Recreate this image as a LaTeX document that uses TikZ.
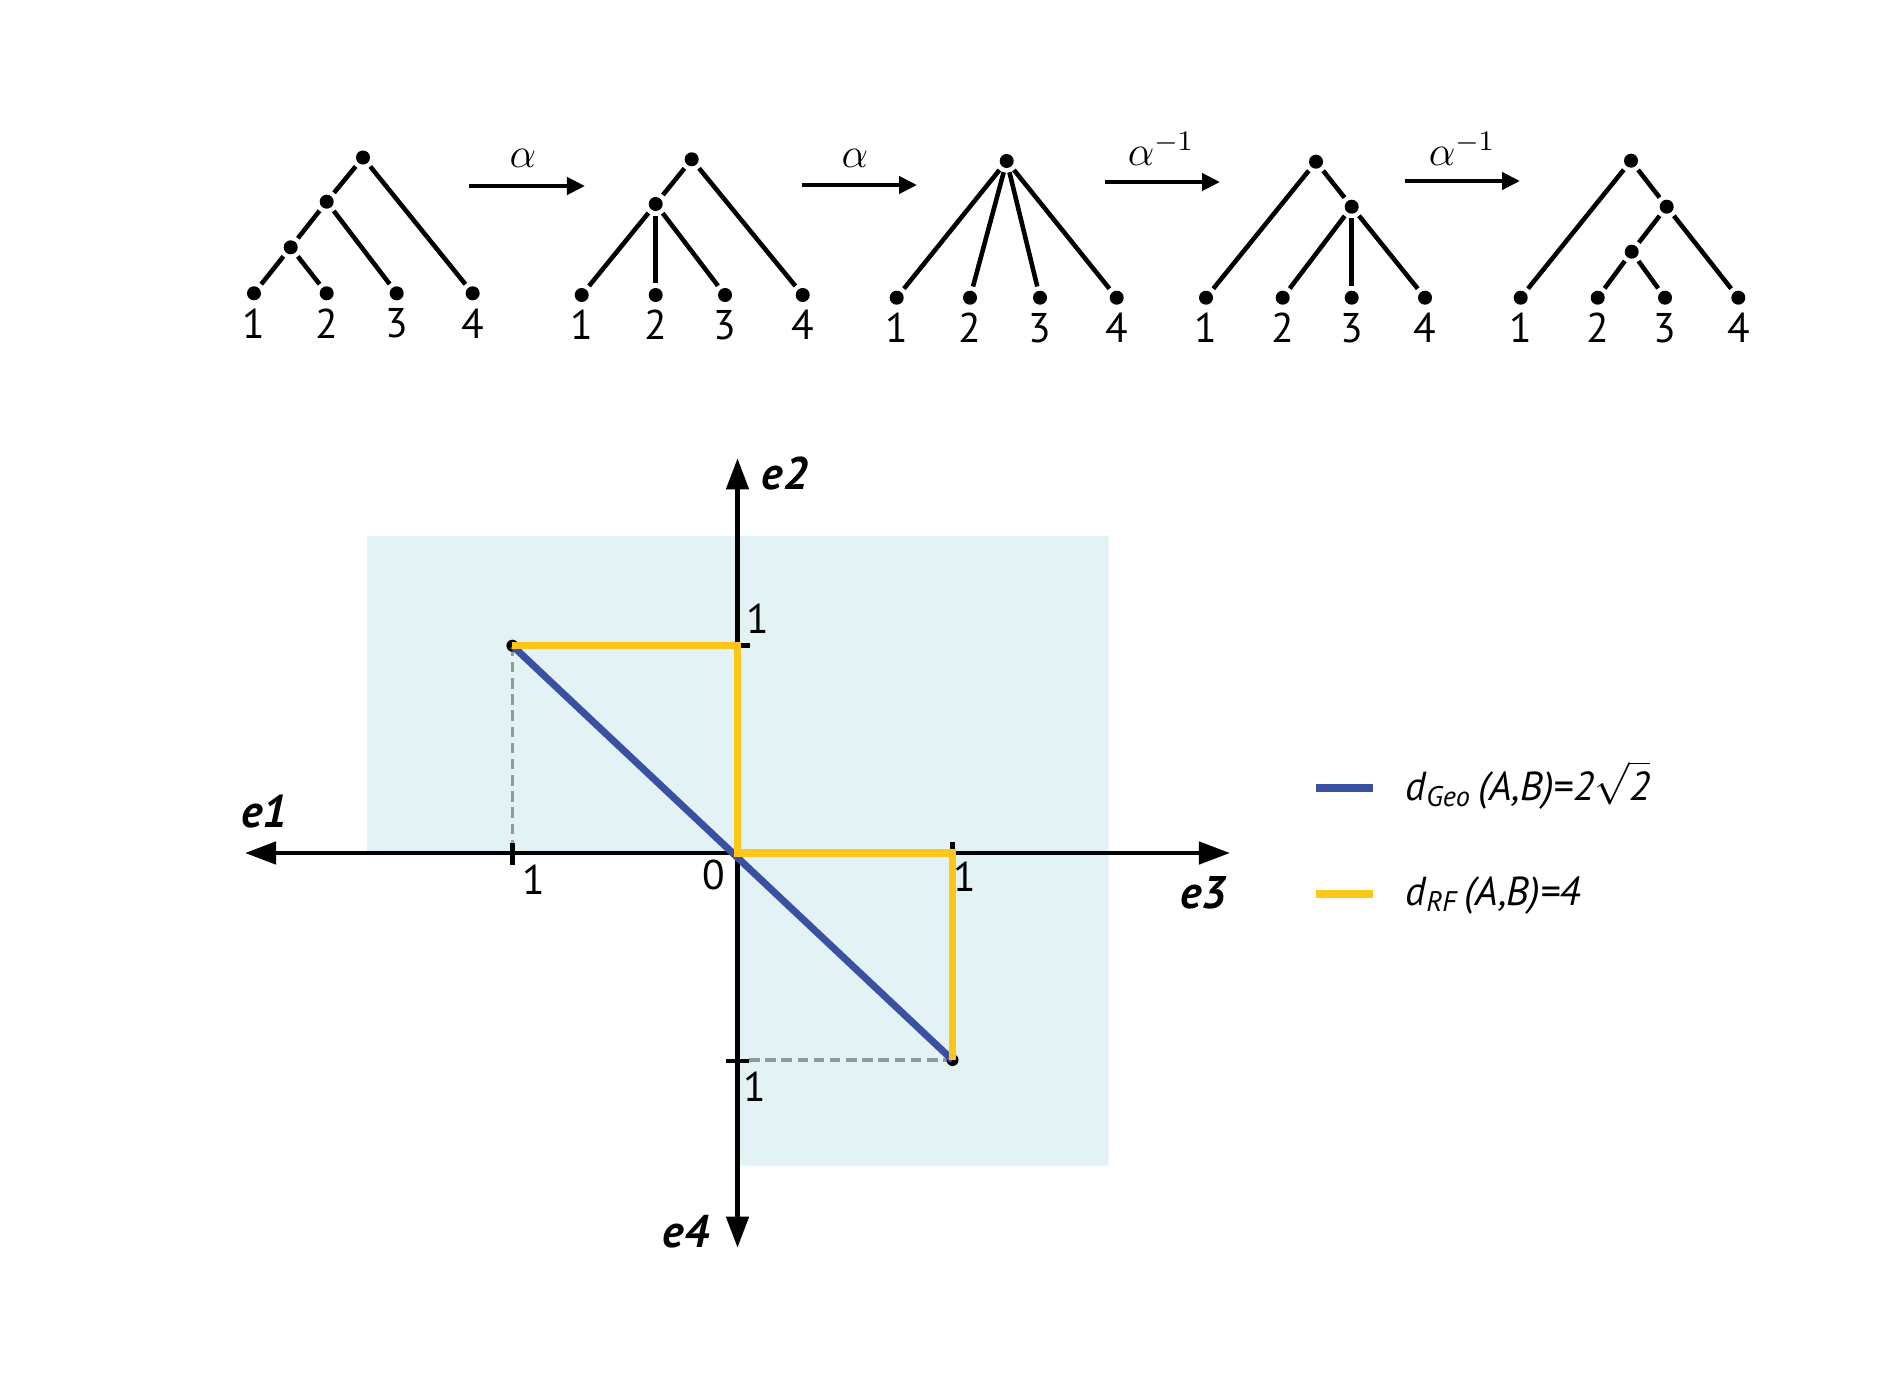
\documentclass[tikz,border=0pt]{standalone}
\usepackage{fontspec}
\setmainfont{PT Sans}
\usetikzlibrary{arrows.meta,positioning}
\definecolor{lightbg}{RGB}{226,242,245}
\definecolor{geoblue}{RGB}{58,80,162}
\definecolor{rfyellow}{RGB}{255,198,26}
\definecolor{dashgrey}{RGB}{140,156,152}
\begin{document}
\begin{tikzpicture}[x=0.01cm,y=-0.01cm,
  dot/.style={circle,fill=black,inner sep=0pt,minimum size=0.14cm},
  edge/.style={line width=1.3pt,shorten <=1.1pt,shorten >=1.1pt},
  lbl/.style={inner sep=0pt,font=\fontsize{11.8}{14}\selectfont},
  leaflbl/.style={lbl,below=0.07cm of #1},
  op/.style={line width=1.2pt,-{Triangle[length=0.18cm,width=0.17cm]}},
  alp/.style={inner sep=0pt,font=\fontsize{12}{14}\selectfont},
  axis/.style={line width=1.3pt,-{Triangle[length=0.31cm,width=0.22cm]}},
  tick/.style={line width=1.3pt},
  axlbl/.style={inner sep=0pt,font=\fontsize{13}{15}\selectfont\bfseries\itshape},
  pt/.style={circle,fill=black,inner sep=0pt,minimum size=0.12cm},
  guide/.style={dashgrey,line width=1pt,dash pattern=on 3pt off 1.6pt},
  geo/.style={geoblue,line width=2pt},
  rf/.style={rfyellow,line width=2.1pt},
  legtxt/.style={inner sep=0pt,anchor=base west,font=\fontsize{11.5}{14}\selectfont\itshape}]
\useasboundingbox (0,0) rectangle (1900,1397);

% ---------- Tree 1 ----------
\node[dot] (t1r) at (363,157.5) {};
\node[dot] (t1a) at (326.7,201.7) {};
\node[dot] (t1b) at (290.7,247.3) {};
\node[dot] (t1l1) at (254,293.3) {};
\node[dot] (t1l2) at (326.7,293.3) {};
\node[dot] (t1l3) at (396.7,293.3) {};
\node[dot] (t1l4) at (472.7,293.3) {};
\draw[edge] (t1r) -- (t1a);
\draw[edge] (t1a) -- (t1b);
\draw[edge] (t1b) -- (t1l1);
\draw[edge] (t1b) -- (t1l2);
\draw[edge] (t1a) -- (t1l3);
\draw[edge] (t1r) -- (t1l4);
\node[leaflbl=t1l1] (t1n1) {1};
\node[leaflbl=t1l2] (t1n2) {2};
\node[leaflbl=t1l3] (t1n3) {3};
\node[leaflbl=t1l4] (t1n4) {4};

% ---------- Tree 2 ----------
\node[dot] (t2r) at (691.7,159.3) {};
\node[dot] (t2a) at (655.7,204) {};
\node[dot] (t2l1) at (581.7,295) {};
\node[dot] (t2l2) at (655.7,295) {};
\node[dot] (t2l3) at (725,295) {};
\node[dot] (t2l4) at (802.7,295) {};
\draw[edge] (t2r) -- (t2a);
\draw[edge] (t2a) -- (t2l1);
\draw[edge] (t2a) -- (t2l2);
\draw[edge] (t2a) -- (t2l3);
\draw[edge] (t2r) -- (t2l4);
\node[leaflbl=t2l1] (t2n1) {1};
\node[leaflbl=t2l2] (t2n2) {2};
\node[leaflbl=t2l3] (t2n3) {3};
\node[leaflbl=t2l4] (t2n4) {4};

% ---------- Tree 3 ----------
\node[dot] (t3r) at (1006.7,161) {};
\node[dot] (t3l1) at (896.7,297.7) {};
\node[dot] (t3l2) at (970,297.7) {};
\node[dot] (t3l3) at (1040,297.7) {};
\node[dot] (t3l4) at (1116.7,297.7) {};
\draw[edge] (t3r) -- (t3l1);
\draw[edge] (t3r) -- (t3l2);
\draw[edge] (t3r) -- (t3l3);
\draw[edge] (t3r) -- (t3l4);
\node[leaflbl=t3l1] (t3n1) {1};
\node[leaflbl=t3l2] (t3n2) {2};
\node[leaflbl=t3l3] (t3n3) {3};
\node[leaflbl=t3l4] (t3n4) {4};

% ---------- Tree 4 ----------
\node[dot] (t4r) at (1316,161.7) {};
\node[dot] (t4a) at (1351.7,206.7) {};
\node[dot] (t4l1) at (1206,297.7) {};
\node[dot] (t4l2) at (1282.7,297.7) {};
\node[dot] (t4l3) at (1351.7,297.7) {};
\node[dot] (t4l4) at (1425,297.7) {};
\draw[edge] (t4r) -- (t4l1);
\draw[edge] (t4r) -- (t4a);
\draw[edge] (t4a) -- (t4l2);
\draw[edge] (t4a) -- (t4l3);
\draw[edge] (t4a) -- (t4l4);
\node[leaflbl=t4l1] (t4n1) {1};
\node[leaflbl=t4l2] (t4n2) {2};
\node[leaflbl=t4l3] (t4n3) {3};
\node[leaflbl=t4l4] (t4n4) {4};

% ---------- Tree 5 ----------
\node[dot] (t5r) at (1631,160.7) {};
\node[dot] (t5a) at (1666.7,206.7) {};
\node[dot] (t5b) at (1631.7,251.7) {};
\node[dot] (t5l1) at (1520.7,297.7) {};
\node[dot] (t5l2) at (1597.7,297.7) {};
\node[dot] (t5l3) at (1665,297.7) {};
\node[dot] (t5l4) at (1738.3,297.7) {};
\draw[edge] (t5r) -- (t5l1);
\draw[edge] (t5r) -- (t5a);
\draw[edge] (t5a) -- (t5b);
\draw[edge] (t5b) -- (t5l2);
\draw[edge] (t5b) -- (t5l3);
\draw[edge] (t5a) -- (t5l4);
\node[leaflbl=t5l1] (t5n1) {1};
\node[leaflbl=t5l2] (t5n2) {2};
\node[leaflbl=t5l3] (t5n3) {3};
\node[leaflbl=t5l4] (t5n4) {4};

% ---------- operation arrows ----------
\coordinate (a1s) at (469,186);  \coordinate (a1e) at (585,186);
\coordinate (a2s) at (802,185);  \coordinate (a2e) at (917,185);
\coordinate (a3s) at (1105,182); \coordinate (a3e) at (1220,182);
\coordinate (a4s) at (1405,181); \coordinate (a4e) at (1520,181);
\draw[op] (a1s) -- (a1e);
\draw[op] (a2s) -- (a2e);
\draw[op] (a3s) -- (a3e);
\draw[op] (a4s) -- (a4e);
\node[alp] (al1) at (523,158) {$\alpha$};
\node[alp] (al2) at (855,158) {$\alpha$};
\node[alp] (al3) at (1161,149) {$\alpha^{-1}$};
\node[alp] (al4) at (1462,149) {$\alpha^{-1}$};

% ---------- plot ----------
\coordinate (O) at (737.5,853);
\coordinate (e1tip) at (245,853);
\coordinate (e3tip) at (1230,853);
\coordinate (e2tip) at (737.5,458.3);
\coordinate (e4tip) at (737.5,1247.7);
\coordinate (Y1) at (737.5,645.7);
\coordinate (Y3) at (952.5,853);
\coordinate (A) at (512.4,645.7);
\coordinate (B) at (952.5,1060);
\coordinate (Afoot) at (512.4,843);
\coordinate (Bfoot) at (749,1060);

\fill[lightbg] (367,536) -- (1108.5,536) -- (1108.5,1165.7) -- (737.5,1165.7)
  -- (737.5,853) -- (367,853) -- cycle;

\draw[guide] (A) -- (Afoot);
\draw[guide] (Bfoot) -- (B);

\draw[axis] (O) -- (e1tip);
\draw[axis] (O) -- (e3tip);
\draw[axis] (O) -- (e2tip);
\draw[axis] (O) -- (e4tip);

\draw[tick] (512.4,843) -- (512.4,865);
\draw[tick] (952.5,841.7) -- (952.5,853);
\draw[tick] (737.5,645.7) -- (749.7,645.7);
\draw[tick] (726.3,1061) -- (749,1061);

\node[pt] (Adot) at (A) {};
\node[pt] (Bdot) at (B) {};

\draw[geo] (A) -- (B);
\draw[rf,line join=miter] (A) -- (Y1) -- (O) -- (Y3) -- (B);

\node[lbl] (n2) at (758,618.3) {1};
\node[lbl] (n1) at (534.2,880) {1};
\node[lbl] (n0) at (714,875) {0};
\node[lbl] (n3) at (964.8,876.7) {1};
\node[lbl] (n4) at (754.4,1086.7) {1};

\node[axlbl] (le1) at (264.4,811.7) {e1};
\node[axlbl] (le2) at (785,473.3) {e2};
\node[axlbl] (le3) at (1203.3,893.3) {e3};
\node[axlbl] (le4) at (686,1231.7) {e4};

% ---------- legend ----------
\coordinate (g1) at (1316,788.3); \coordinate (g2) at (1373.3,788.3);
\coordinate (r1) at (1316,894);   \coordinate (r2) at (1373.3,894);
\draw[geoblue,line width=2.3pt] (g1) -- (g2);
\draw[rfyellow,line width=2.3pt] (r1) -- (r2);
\node[legtxt] (tgeo) at (1405,800) {d\textsubscript{Geo}\,(A,B)=2$\sqrt{\mbox{\itshape 2}}$};
\node[legtxt] (trf) at (1405,905) {d\textsubscript{RF}\,(A,B)=4};
\end{tikzpicture}
\end{document}
